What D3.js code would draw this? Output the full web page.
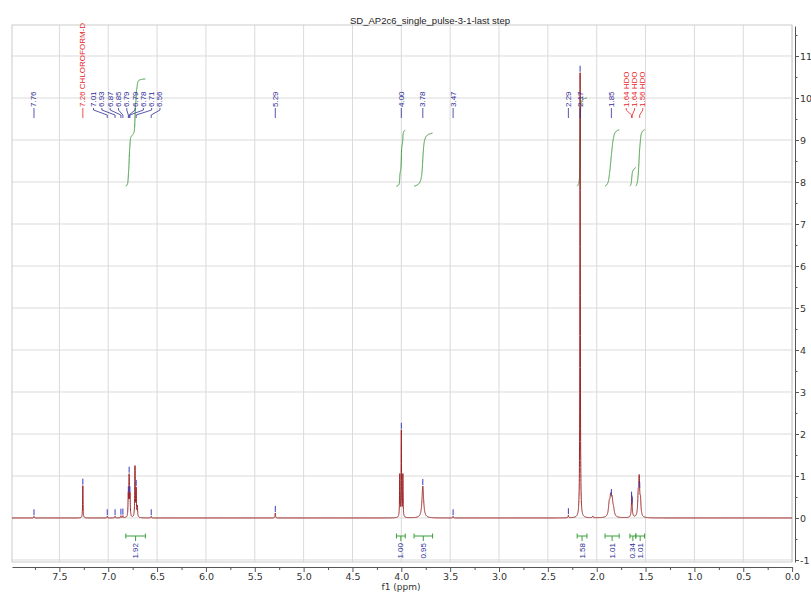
<!DOCTYPE html>
<html>
<head>
<meta charset="utf-8">
<script src="https://cdnjs.cloudflare.com/ajax/libs/d3/7.8.5/d3.min.js"></script>
<style>
  body { margin: 0; background: #fff; }
  svg { display: block; }
</style>
</head>
<body>
<div id="chart"></div>
<script>
const chartTitle = "SD_AP2c6_single_pulse-3-1-last step";
const xLabel = "f1 (ppm)";
const xTickValues = [7.5, 7.0, 6.5, 6.0, 5.5, 5.0, 4.5, 4.0, 3.5, 3.0, 2.5, 2.0, 1.5, 1.0, 0.5, 0.0];
const yTickValues = [-1, 0, 1, 2, 3, 4, 5, 6, 7, 8, 9, 10, 11];

// spectrum lines: centre (ppm), height, half width (ppm)
const lineCenters = [7.76, 7.26, 7.01, 6.93, 6.87, 6.85,
    6.795, 6.786, 6.777, 6.726, 6.714, 6.702, 6.56,
    5.29, 4.016, 4.000, 3.984, 3.78, 3.47, 2.29, 2.17, 2.04,
    1.872, 1.857, 1.842, 1.827, 1.641, 1.575, 1.565, 1.552];
const lineHeights = [0.04, 0.77, 0.04, 0.04, 0.05, 0.05,
    0.5, 0.95, 0.5, 1.2, 0.65, 0.25, 0.04,
    0.12, 1.0, 2.05, 1.0, 0.76, 0.04, 0.06, 10.6, 0.04,
    0.28, 0.42, 0.36, 0.14, 0.52, 0.45, 0.85, 0.35];
const lineWidths = [0.003, 0.0025, 0.003, 0.003, 0.003, 0.003,
    0.003, 0.003, 0.003, 0.003, 0.003, 0.003, 0.003,
    0.003, 0.0025, 0.0025, 0.0025, 0.010, 0.003, 0.003, 0.0025, 0.004,
    0.009, 0.009, 0.009, 0.009, 0.005, 0.006, 0.006, 0.006];

// picked peaks
const peakPpm = [7.76, 7.26, 7.01, 6.93, 6.87, 6.85, 6.794, 6.786, 6.778, 6.714, 6.56,
    5.29, 4.00, 3.78, 3.47, 2.29, 2.17, 1.85, 1.643, 1.637, 1.56];
const peakNames = ["", "CHLOROFORM-D", "", "", "", "", "", "", "", "", "",
    "", "", "", "", "", "", "", "HDO", "HDO", "HDO"];

// integrals
const integralFrom = [6.82, 4.05, 3.87, 2.20, 1.915, 1.66, 1.60];
const integralTo = [6.62, 3.96, 3.68, 2.10, 1.77, 1.60, 1.51];
const integralValues = [1.92, 1.00, 0.95, 1.58, 1.01, 0.34, 1.01];

const width = 811, height = 593;
const box = {left: 12, right: 792, top: 25, bottom: 562};
const blue = "#2d2d96", red = "#e8242a", green = "#3f9a3f";

const svg = d3.select("#chart").append("svg")
    .attr("width", width)
    .attr("height", height);

const x = d3.scaleLinear().domain([7.985, 0]).range([box.left, 792.1]);
const y = d3.scaleLinear().domain([-1.048, 11.714]).range([box.bottom, 26]);

function spec(p) {
    let s = 0;
    for (let i = 0; i < lineCenters.length; i++) {
        const d = (p - lineCenters[i]) / lineWidths[i];
        s += lineHeights[i] / (1 + d * d);
    }
    return s;
}

// grid and frame
const grid = svg.append("g");
grid.selectAll(".vg").data(xTickValues).join("line")
    .attr("x1", d => x(d)).attr("x2", d => x(d))
    .attr("y1", box.top).attr("y2", box.bottom)
    .attr("stroke", "#dadada");
grid.selectAll(".hg").data(yTickValues).join("line")
    .attr("x1", box.left).attr("x2", box.right)
    .attr("y1", d => y(d)).attr("y2", d => y(d))
    .attr("stroke", "#dadada");
grid.append("rect")
    .attr("x", box.left).attr("y", box.top)
    .attr("width", box.right - box.left).attr("height", box.bottom - box.top)
    .attr("fill", "none").attr("stroke", "#cccccc");

svg.append("text")
    .attr("x", 430).attr("y", 24)
    .attr("text-anchor", "middle")
    .attr("font-family", "Liberation Sans, Arial, sans-serif")
    .attr("font-size", 9.5)
    .attr("fill", "#222")
    .text(chartTitle);

// axes
const tickFont = "DejaVu Sans, Verdana, sans-serif";
svg.append("g")
    .attr("transform", "translate(0,567)")
    .call(d3.axisBottom(x).tickValues(xTickValues).tickSize(5).tickSizeOuter(0)
        .tickPadding(1).tickFormat(d3.format(".1f")));
const xMinor = xTickValues.slice(0, -1).map((v, i) => (v + xTickValues[i + 1]) / 2).concat([7.75]);
svg.append("g")
    .attr("transform", "translate(0,567)")
    .call(d3.axisBottom(x).tickValues(xMinor).tickSize(3).tickFormat(""))
    .call(g => g.select(".domain").remove());

svg.append("g")
    .attr("transform", "translate(795,0)")
    .call(d3.axisRight(y).tickValues(yTickValues).tickSize(4).tickSizeOuter(0)
        .tickPadding(1).tickFormat(d => String(d)));
const yMinor = yTickValues.map(v => v + 0.5).filter(v => v < 11.7);
svg.append("g")
    .attr("transform", "translate(795,0)")
    .call(d3.axisRight(y).tickValues(yMinor).tickSize(2.5).tickFormat(""))
    .call(g => g.select(".domain").remove());

svg.selectAll(".tick line, .domain").attr("stroke", "#555");
svg.selectAll(".tick text")
    .attr("font-family", tickFont)
    .attr("font-size", 9.5)
    .attr("fill", "#333");

svg.append("text")
    .attr("x", 401).attr("y", 590)
    .attr("text-anchor", "middle")
    .attr("font-family", tickFont)
    .attr("font-size", 9)
    .attr("fill", "#333")
    .text(xLabel);

// spectrum trace
const samples = d3.range(7.985, 0, -0.0005).concat(lineCenters).sort((a, b) => b - a);
const trace = samples.map(p => [p, spec(p)]);
const line = d3.line().x(d => x(d[0])).y(d => y(d[1]));

// integral curves
const intBase = 7.9, intScale = 1.33;
integralValues.forEach((v, i) => {
    const pts = d3.range(integralFrom[i], integralTo[i], -0.0005);
    let acc = 0;
    const cum = pts.map(p => { acc += spec(p); return acc; });
    const curve = pts.map((p, j) => [p, intBase + intScale * v * cum[j] / acc]);
    svg.append("path")
        .attr("d", line(curve))
        .attr("fill", "none")
        .attr("stroke", green)
        .attr("stroke-width", 1);
});

svg.append("path")
    .attr("d", line(trace))
    .attr("fill", "none")
    .attr("stroke", "#9b2323")
    .attr("stroke-width", 1);

// peak markers
svg.selectAll(".pm").data(peakPpm).join("line")
    .attr("x1", d => x(d)).attr("x2", d => x(d))
    .attr("y1", d => y(spec(d)) - 1)
    .attr("y2", d => y(spec(d)) - 7)
    .attr("stroke", "#3a3ac0")
    .attr("stroke-width", 1);

// label layout: spread labels that would overlap
const gap = 8.3;
const peakX = peakPpm.map(p => x(p));
const groups = [];
peakX.forEach((px, i) => {
    const last = groups[groups.length - 1];
    if (last && px - peakX[last[last.length - 1]] < gap) last.push(i);
    else groups.push([i]);
});
let merged = true;
let labelX = [];
while (merged) {
    merged = false;
    labelX = [];
    groups.forEach(g => {
        const c = d3.mean(g, i => peakX[i]);
        g.forEach((i, k) => labelX[i] = c + (k - (g.length - 1) / 2) * gap);
    });
    for (let k = 1; k < groups.length; k++) {
        const a = groups[k - 1], b = groups[k];
        if (labelX[b[0]] - labelX[a[a.length - 1]] < gap) {
            groups.splice(k - 1, 2, a.concat(b));
            merged = true;
            break;
        }
    }
}

const labels = svg.append("g");
peakPpm.forEach((p, i) => {
    const lx = labelX[i], px = peakX[i];
    const col = peakNames[i] ? red : blue;
    const d = Math.abs(lx - px) < 0.5
        ? `M${px},108V118`
        : `M${lx},108V110L${px},115V118`;
    labels.append("path")
        .attr("d", d)
        .attr("fill", "none")
        .attr("stroke", col)
        .attr("stroke-width", 0.8);
    labels.append("text")
        .attr("transform", `translate(${lx},107) rotate(-90)`)
        .attr("dominant-baseline", "central")
        .attr("font-family", "Liberation Sans, Arial, sans-serif")
        .attr("font-size", 8)
        .attr("fill", col)
        .text(p.toFixed(2) + (peakNames[i] ? " " + peakNames[i] : ""));
});

// integral brackets
const brackets = svg.append("g");
integralValues.forEach((v, i) => {
    const x0 = x(integralFrom[i]), x1 = x(integralTo[i]), cx = (x0 + x1) / 2;
    brackets.append("path")
        .attr("d", `M${x0},533.5V538.5M${x0},536H${x1}M${x1},533.5V538.5M${cx},536V541`)
        .attr("fill", "none")
        .attr("stroke", "#3aa03a")
        .attr("stroke-width", 1);
    brackets.append("text")
        .attr("transform", `translate(${cx},543) rotate(-90)`)
        .attr("text-anchor", "end")
        .attr("dominant-baseline", "central")
        .attr("font-family", "Liberation Sans, Arial, sans-serif")
        .attr("font-size", 8)
        .attr("fill", blue)
        .text(v.toFixed(2));
});
</script>
</body>
</html>
